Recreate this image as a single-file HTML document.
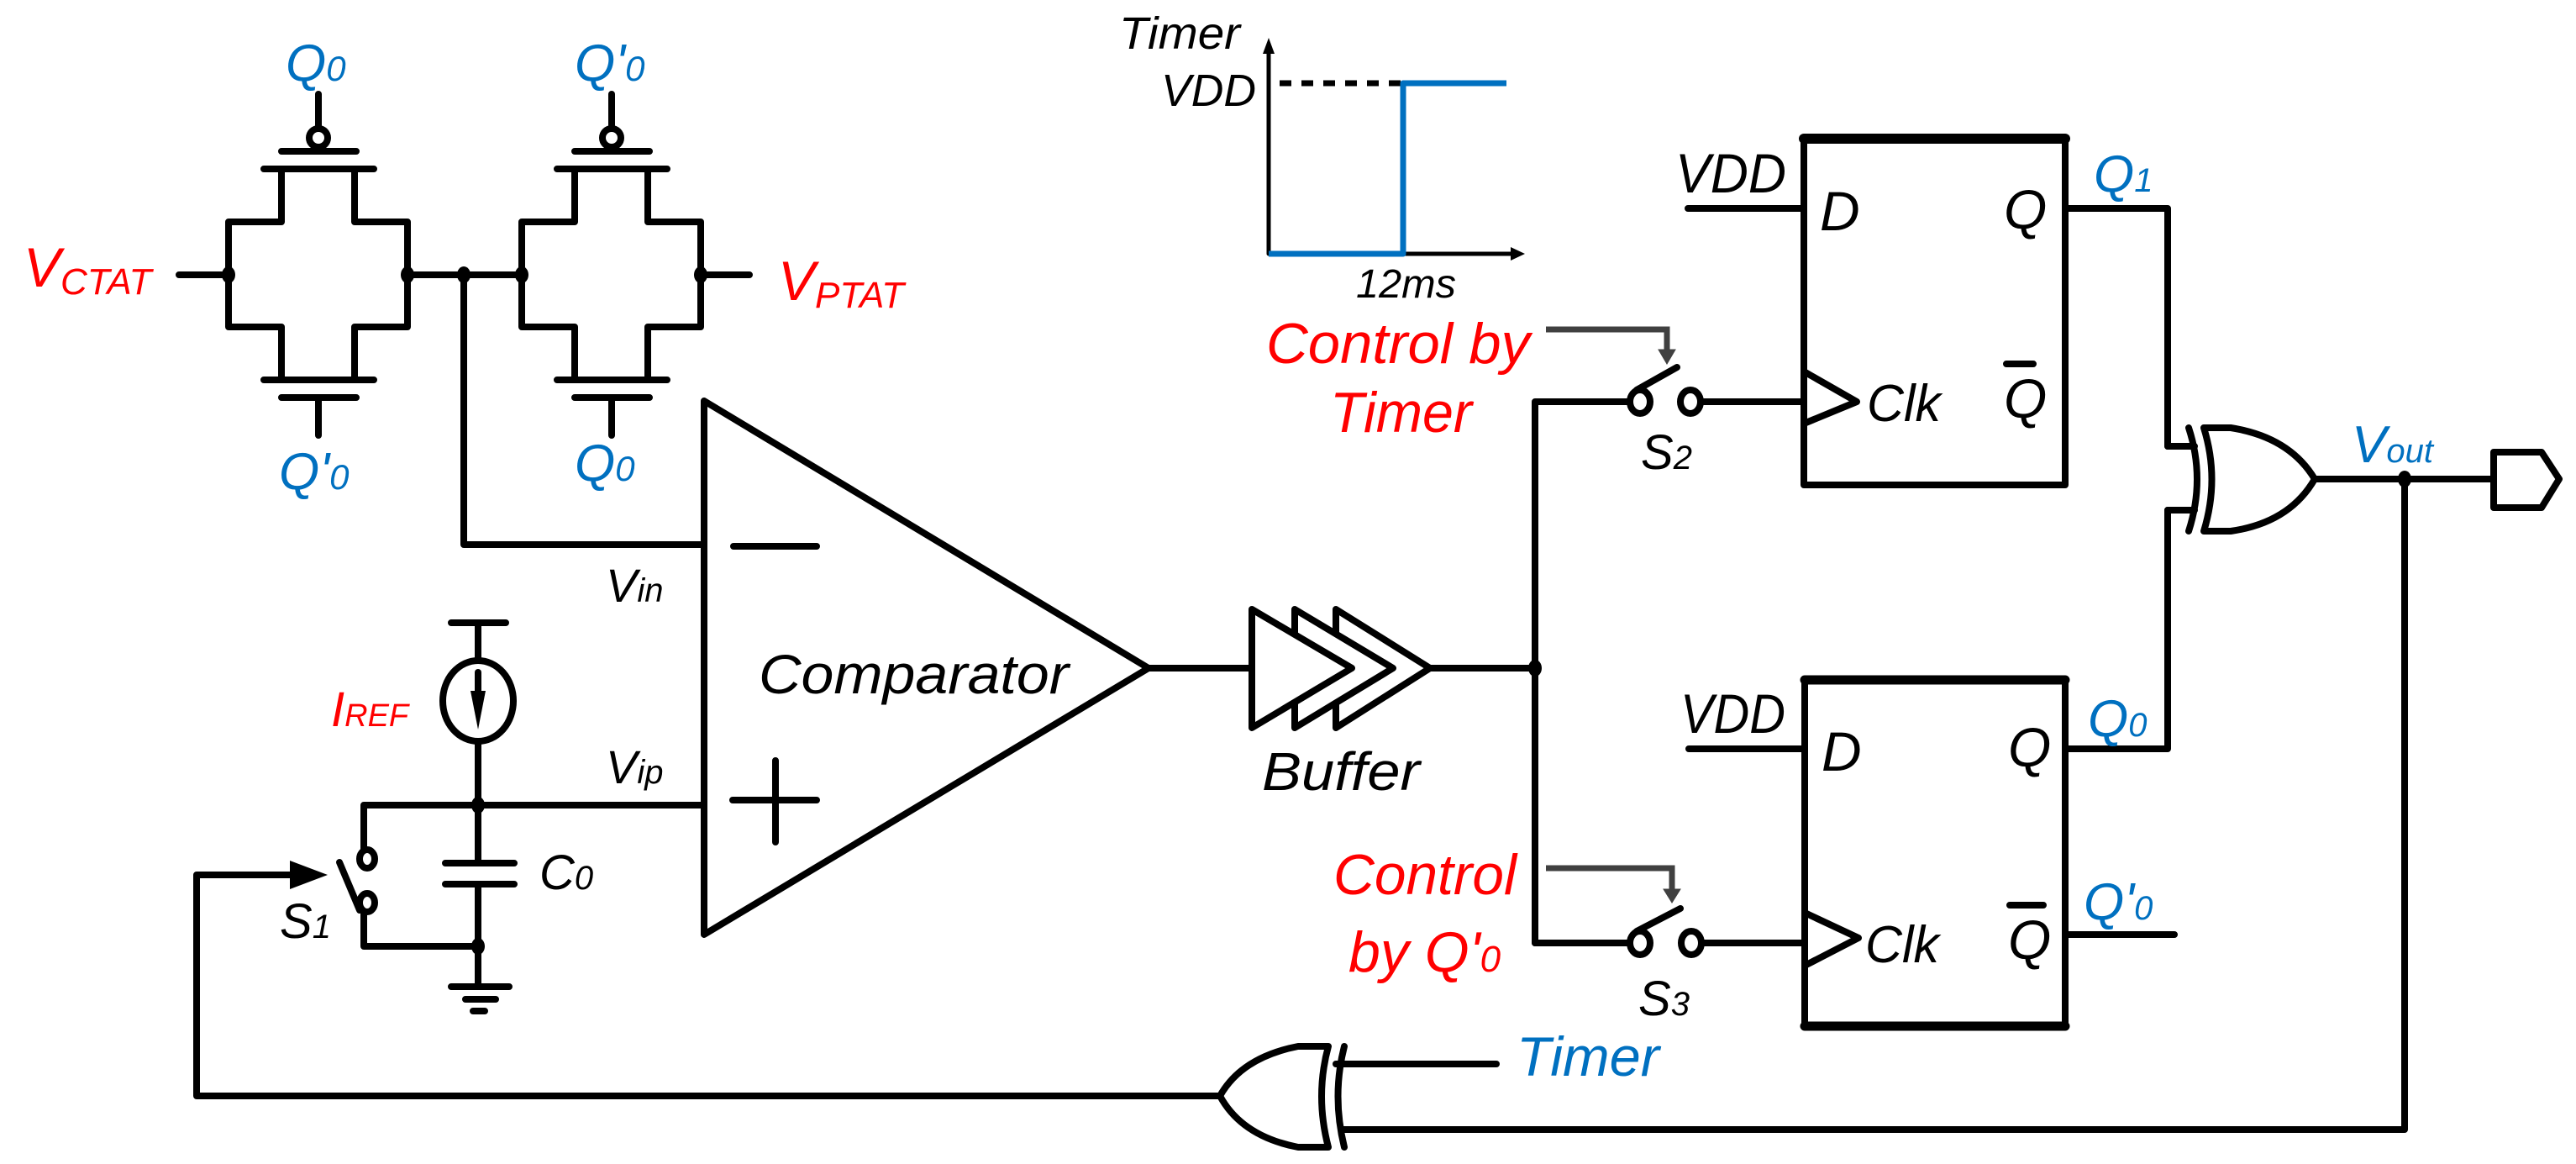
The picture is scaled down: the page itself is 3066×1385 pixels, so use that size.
<!DOCTYPE html>
<html><head><meta charset="utf-8"><style>
html,body{margin:0;padding:0;background:#fff;}
svg{display:block;}
text{font-family:"Liberation Sans",sans-serif;font-style:italic;}
.r{fill:#FF0000}.b{fill:#0070C0}.k{fill:#000}
</style></head><body>
<svg width="3066" height="1385" viewBox="0 0 3066 1385" xmlns="http://www.w3.org/2000/svg">
<g fill="none" stroke="#000" stroke-width="8" stroke-linecap="round" stroke-linejoin="round">
<!-- left TG -->
<path d="M213,327 H272 M335,201 V264 H272 V389 H335 V452 M422,201 V264 H485 V389 H422 V452"/>
<path d="M314,201 H445 M335,180 H424 M379,112 V152 M314,452 H445 M335,473 H424 M379,473 V518"/>
<ellipse cx="379" cy="164" rx="11" ry="11"/>
<!-- right TG -->
<path d="M485,327 H621 M834,327 H892 M684,201 V264 H621 V389 H684 V452 M771,201 V264 H834 V389 H771 V452"/>
<path d="M663,201 H794 M684,180 H773 M728,112 V152 M663,452 H794 M684,473 H773 M728,473 V518"/>
<ellipse cx="728" cy="164" rx="11" ry="11"/>
<path d="M552,327 V648 H838"/>
<!-- comparator -->
<polygon points="838,477 1367,795 838,1112"/>
<path d="M873,650 H972 M872,952 H972 M923,905 V1002"/>
<!-- current source, cap, switch -->
<path d="M537,741 H602 M569,741 V786 M569,882 V1027 M530,1027 H612 M530,1052 H612 M569,1052 V1174 M537,1174 H606 M554,1189 H590 M563,1203 H577"/>
<ellipse cx="569" cy="834" rx="42" ry="48"/>
<path d="M569,800 V830"/>
<path d="M569,958 H838 M569,958 H433 V1011 M433,1086 V1126 H569"/>
<ellipse cx="437" cy="1022" rx="9" ry="11"/>
<ellipse cx="437" cy="1074" rx="9" ry="11"/>
<path d="M428,1083 L404,1026"/>
<path d="M1452,1304 H234 V1041 H350"/>
<!-- buffer -->
<path d="M1367,795 H1490 M1702,795 H1827"/>
<polygon points="1590,725 1702,795 1590,866" fill="#fff"/>
<polygon points="1541,725 1658,795 1541,866" fill="#fff"/>
<polygon points="1490,725 1609,795 1490,866" fill="#fff"/>
<!-- switches -->
<path d="M1827,478 V1122 M1827,478 H1939 M2026,478 H2147 M1948,464 L1996,437"/>
<ellipse cx="1952" cy="478" rx="12" ry="14"/>
<ellipse cx="2012" cy="478" rx="12" ry="14"/>
<path d="M1827,1122 H1939 M2026,1122 H2148 M1948,1108 L2000,1081"/>
<ellipse cx="1952" cy="1122" rx="12" ry="14"/>
<ellipse cx="2013" cy="1122" rx="12" ry="14"/>
<!-- FF1 -->
<rect x="2147" y="165" width="311" height="412"/>
<path d="M2147,165 H2458" stroke-width="12"/>
<path d="M2009,248 H2147 M2147,442 L2210,478 L2147,504 M2458,248 H2580 V531 M2388,433 H2420"/>
<!-- FF2 -->
<rect x="2148" y="809" width="310" height="412"/>
<path d="M2148,809 H2458 M2148,1221 H2458" stroke-width="11"/>
<path d="M2010,891 H2148 M2148,1086 L2212,1116 L2148,1149 M2458,891 H2580 V607 M2458,1112 H2588 M2392,1077 H2432"/>
<!-- XOR1 -->
<path d="M2580,531 H2612 M2580,607 H2612"/>
<path d="M2623,509 H2655 Q2725,520 2755,570 Q2725,622 2655,632 H2623 Q2642,570 2623,509 Z"/>
<path d="M2605,509 Q2625,570 2605,632"/>
<path d="M2755,570 H2968 M2862,570 V1344 H1598"/>
<polygon points="2968,538 3025,538 3046,570 3025,604 2968,604"/>
<!-- XOR2 -->
<path d="M1581,1245 H1545 Q1478,1258 1452,1304 Q1478,1352 1545,1365 H1581 Q1565,1304 1581,1245 Z"/>
<path d="M1600,1245 Q1585,1304 1600,1365"/>
<path d="M1590,1266 H1781"/>
<!-- timer chart -->
<path d="M1510,302 V58 M1510,302 H1800" stroke-width="5"/>
<path d="M1523,99 H1670" stroke-width="7" stroke-dasharray="14,12" stroke-linecap="butt"/>
<path d="M1510,302 H1670 V99 H1793" stroke="#0070C0" stroke-width="7" stroke-linecap="butt"/>
</g>
<g fill="#000">
<polygon points="1503,64 1517,64 1510,45"/>
<polygon points="1798,294 1798,310 1815,302"/>
<polygon points="560,822 578,822 569,868"/>
<polygon points="345,1024 390,1041 345,1058"/>
<ellipse cx="272" cy="327" rx="8" ry="10"/><ellipse cx="485" cy="327" rx="8" ry="10"/>
<ellipse cx="552" cy="327" rx="8" ry="10"/><ellipse cx="621" cy="327" rx="8" ry="10"/>
<ellipse cx="834" cy="327" rx="8" ry="10"/>
<ellipse cx="569" cy="958" rx="8" ry="10"/><ellipse cx="569" cy="1126" rx="8" ry="10"/>
<ellipse cx="1827" cy="795" rx="8" ry="10"/><ellipse cx="2862" cy="570" rx="8" ry="10"/>
</g>
<g fill="#404040" stroke="#404040">
<path d="M1840,392 H1984 V418" fill="none" stroke-width="7"/>
<polygon points="1974,416 1994,416 1984,433"/>
<path d="M1840,1033 H1990 V1060" fill="none" stroke-width="7"/>
<polygon points="1980,1058 2000,1058 1990,1074"/>
</g>
<!-- labels -->
<text class="b" x="340" y="96" font-size="62">Q<tspan font-size="42">0</tspan></text>
<text class="b" x="684" y="96" font-size="62">Q'<tspan font-size="42">0</tspan></text>
<text class="b" x="332" y="582" font-size="62">Q'<tspan font-size="42">0</tspan></text>
<text class="b" x="684" y="572" font-size="62">Q<tspan font-size="42">0</tspan></text>
<text class="r" x="28" y="341" font-size="66">V<tspan font-size="44" dy="9">CTAT</tspan></text>
<text class="r" x="926" y="357" font-size="66">V<tspan font-size="44" dy="9">PTAT</tspan></text>
<text class="k" x="721" y="716" font-size="56">V<tspan font-size="40">in</tspan></text>
<text class="k" x="721" y="932" font-size="56">V<tspan font-size="40">ip</tspan></text>
<text class="k" x="903" y="825" font-size="66" textLength="369" lengthAdjust="spacingAndGlyphs">Comparator</text>
<text class="r" x="394" y="864" font-size="58">I<tspan font-size="38">REF</tspan></text>
<text class="k" x="642" y="1058" font-size="58">C<tspan font-size="40">0</tspan></text>
<text class="k" x="333" y="1116" font-size="58">S<tspan font-size="40">1</tspan></text>
<text class="k" x="1502" y="940" font-size="64" textLength="188" lengthAdjust="spacingAndGlyphs">Buffer</text>
<text class="k" x="1332" y="58" font-size="54" textLength="144" lengthAdjust="spacingAndGlyphs">Timer</text>
<text class="k" x="1382" y="126" font-size="54" textLength="113" lengthAdjust="spacingAndGlyphs">VDD</text>
<text class="k" x="1614" y="354" font-size="48" textLength="119" lengthAdjust="spacingAndGlyphs">12ms</text>
<text class="r" x="1507" y="432" font-size="68" textLength="314" lengthAdjust="spacingAndGlyphs">Control by</text>
<text class="r" x="1583" y="514" font-size="68" textLength="169" lengthAdjust="spacingAndGlyphs">Timer</text>
<text class="k" x="1953" y="558" font-size="58">S<tspan font-size="40">2</tspan></text>
<text class="k" x="1994" y="229" font-size="66" textLength="132" lengthAdjust="spacingAndGlyphs">VDD</text>
<text class="k" x="2166" y="274" font-size="66">D</text>
<text class="k" x="2385" y="272" font-size="66">Q</text>
<text class="k" x="2385" y="497" font-size="66">Q</text>
<text class="k" x="2222" y="501" font-size="62" textLength="88" lengthAdjust="spacingAndGlyphs">Clk</text>
<text class="b" x="2492" y="228" font-size="62">Q<tspan font-size="40">1</tspan></text>
<text class="b" x="2799" y="550" font-size="62">V<tspan font-size="40">out</tspan></text>
<text class="k" x="2000" y="872" font-size="66" textLength="125" lengthAdjust="spacingAndGlyphs">VDD</text>
<text class="k" x="2168" y="917" font-size="66">D</text>
<text class="k" x="2390" y="912" font-size="66">Q</text>
<text class="k" x="2390" y="1141" font-size="66">Q</text>
<text class="k" x="2220" y="1145" font-size="62" textLength="88" lengthAdjust="spacingAndGlyphs">Clk</text>
<text class="b" x="2485" y="876" font-size="62">Q<tspan font-size="40">0</tspan></text>
<text class="b" x="2480" y="1094" font-size="62">Q'<tspan font-size="40">0</tspan></text>
<text class="k" x="1950" y="1208" font-size="58">S<tspan font-size="40">3</tspan></text>
<text class="r" x="1587" y="1064" font-size="68" textLength="218" lengthAdjust="spacingAndGlyphs">Control</text>
<text class="r" x="1605" y="1156" font-size="68">by Q'<tspan font-size="44">0</tspan></text>
<text class="b" x="1805" y="1280" font-size="66" textLength="170" lengthAdjust="spacingAndGlyphs">Timer</text>
</svg>
</body></html>
